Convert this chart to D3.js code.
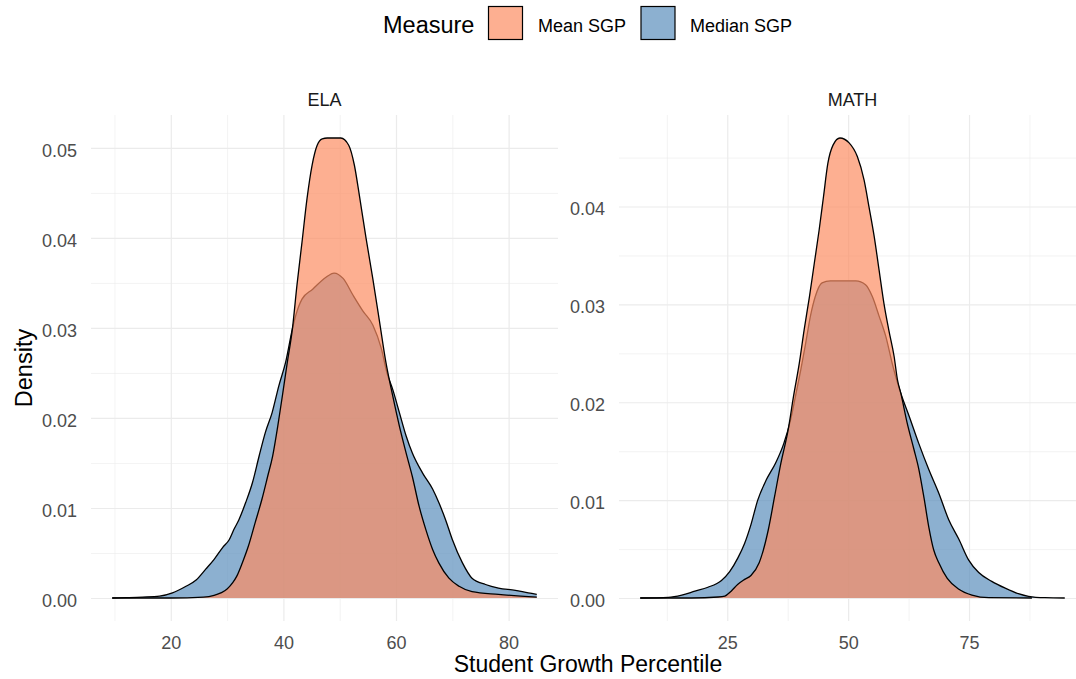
<!DOCTYPE html>
<html>
<head>
<meta charset="utf-8">
<script src="https://cdn.jsdelivr.net/npm/d3@7"></script>
<style>
  body { margin: 0; background: #fff; }
  svg { display: block; font-family: "Liberation Sans", Arial, sans-serif; }
</style>
</head>
<body>
<div id="plot"></div>
<script>
// density curves: [percentile, density]
const elaMedian = [
  [9.6, 0], [12, 0.00004], [15, 0.0001], [18, 0.0002], [20.3, 0.00056], [22.7, 0.0013],
  [24.5, 0.002], [26.2, 0.0032], [27.7, 0.0043], [29.2, 0.0056], [30.4, 0.0065], [31.2, 0.0076],
  [32.1, 0.0087], [33.3, 0.0106], [34.5, 0.0128], [35.7, 0.0158], [36.8, 0.0184], [38, 0.0206],
  [39.2, 0.0236], [40.4, 0.0262], [41.6, 0.0299], [42.2, 0.0314], [43.3, 0.0332], [45.2, 0.0343],
  [47.5, 0.0356], [49, 0.0361], [50.6, 0.0355], [52.4, 0.0336], [54.1, 0.0319], [55.9, 0.0303],
  [57.4, 0.0277], [58.4, 0.025], [59.4, 0.0232], [60.6, 0.0206], [61.8, 0.018], [62.9, 0.0161],
  [64.7, 0.0139], [66.5, 0.0121], [67.6, 0.0106], [68.8, 0.0087], [70, 0.0065], [71.8, 0.0039],
  [73.5, 0.0022], [75.9, 0.0015], [78.2, 0.0011], [81.2, 0.00085], [83.5, 0.00056], [85, 0.0004]
];
const elaMean = [
  [9.6, 0], [20, 0], [25.8, 0.0001], [27.7, 0.0003], [29, 0.0006], [30, 0.001],
  [31, 0.0017], [31.7, 0.0024], [32.7, 0.0039], [33.8, 0.0058], [35, 0.0084], [36.2, 0.011],
  [37.2, 0.0135], [38.1, 0.0158], [39, 0.0191], [39.9, 0.0228], [40.7, 0.0262], [41.6, 0.0299],
  [42.4, 0.0347], [43.3, 0.0395], [44.2, 0.0444], [45.1, 0.0481], [46, 0.0503], [46.9, 0.051],
  [47.8, 0.0511], [50.2, 0.0511], [51.6, 0.0503], [52.6, 0.0481], [53.5, 0.0447], [54.7, 0.0399],
  [55.9, 0.0354], [57.1, 0.0306], [58.2, 0.0262], [59.4, 0.0225], [60.6, 0.0191], [61.8, 0.0161],
  [62.9, 0.0135], [64.1, 0.0102], [65.3, 0.0076], [66.5, 0.0054], [67.6, 0.0039], [69.4, 0.0022],
  [71.2, 0.0013], [73.5, 0.0007], [78.2, 0.0004], [85, 0.0001]
];
const mathMedian = [
  [7, 0], [12.8, 0.00007], [15.6, 0.0003], [18.3, 0.0007], [21, 0.0011], [23.8, 0.0018],
  [25.5, 0.0027], [27.2, 0.0041], [28.6, 0.0056], [29.9, 0.0075], [31.3, 0.01], [33.1, 0.0121],
  [35, 0.0138], [36.7, 0.0158], [38.1, 0.0182], [39.1, 0.0206], [40.2, 0.0233], [41.2, 0.026],
  [42.2, 0.0288], [43.2, 0.0308], [44.6, 0.0322], [46.3, 0.0324], [48.4, 0.0324], [50.1, 0.0324],
  [51.6, 0.0324], [53.6, 0.032], [55, 0.0308], [56.4, 0.0288], [57.8, 0.0267], [59.1, 0.024],
  [60.2, 0.022], [60.9, 0.0209], [62.6, 0.0186], [64.6, 0.0158], [66.7, 0.0131], [68.75, 0.0107],
  [70.8, 0.008], [72.9, 0.006], [74.9, 0.0039], [77, 0.0026], [79.7, 0.0017], [82.5, 0.001],
  [85.2, 0.00044], [87.3, 0.00017], [90.7, 0.00003], [94.8, 0]
];
const mathMean = [
  [7, 0], [17.6, 0], [23.1, 0.0001], [24.5, 0.0002], [25.8, 0.0007], [27.2, 0.0014],
  [28.6, 0.0019], [29.9, 0.0023], [31.6, 0.0036], [33.5, 0.007], [34.8, 0.0104], [36.1, 0.0138],
  [37.6, 0.0172], [38.7, 0.0206], [39.9, 0.024], [40.9, 0.0274], [42, 0.0308], [43, 0.0342],
  [44, 0.0376], [44.9, 0.041], [45.8, 0.0444], [46.9, 0.0463], [48.3, 0.047], [50.2, 0.0465],
  [51.9, 0.0451], [53.3, 0.0427], [54.3, 0.04], [55.4, 0.0369], [56.4, 0.0335], [57.4, 0.0301],
  [58.4, 0.0274], [59.5, 0.0247], [60.2, 0.0223], [60.9, 0.0209], [62.2, 0.0179], [63.6, 0.0152],
  [64.6, 0.0132], [65.7, 0.0102], [66.7, 0.0072], [67.7, 0.0049], [68.75, 0.0036], [70.5, 0.002],
  [72.9, 0.0009], [75.6, 0.0003], [79.1, 0.00003], [88, 0]
];

const measures = ['Mean SGP', 'Median SGP'];
const measureColors = ['#FC8D62', '#5B8EBC'];
const subjects = ['ELA', 'MATH'];

const elaXTicks = [20, 40, 60, 80];
const elaXMinor = [10, 30, 50, 70];
const mathXTicks = [25, 50, 75];
const mathXMinor = [12.5, 37.5, 62.5, 87.5];
const elaYTicks = [0, 0.01, 0.02, 0.03, 0.04, 0.05];
const mathYTicks = [0, 0.01, 0.02, 0.03, 0.04];
const yMinor = [0.005, 0.015, 0.025, 0.035, 0.045];

const W = 1076, H = 679;
const panelTop = 115, panelBottom = 621;
const fillOpacity = 0.7;

const svg = d3.select('#plot').append('svg').attr('width', W).attr('height', H);

const panels = [
  { name: subjects[0], left: 91, right: 558, mean: elaMean, median: elaMedian,
    xTicks: elaXTicks, xMinor: elaXMinor, yTicks: elaYTicks },
  { name: subjects[1], left: 619, right: 1086, mean: mathMean, median: mathMedian,
    xTicks: mathXTicks, xMinor: mathXMinor, yTicks: mathYTicks }
];

// ggplot style 5% expansion
const expand = (ext) => {
  const pad = (ext[1] - ext[0]) * 0.05;
  return [ext[0] - pad, ext[1] + pad];
};

panels.forEach((p) => {
  const all = p.mean.concat(p.median);
  const x = d3.scaleLinear().domain(expand(d3.extent(all, (d) => d[0]))).range([p.left, p.right]);
  const y = d3.scaleLinear().domain(expand([0, d3.max(all, (d) => d[1])])).range([panelBottom, panelTop]);
  const g = svg.append('g');
  const ph = panelBottom - panelTop;
  const pw = p.right - p.left;

  // grid: minor then major
  const grid = (axis, tx, ty, sw) => {
    const a = g.append('g').attr('transform', `translate(${tx},${ty})`).call(axis);
    a.select('.domain').remove();
    a.selectAll('line').attr('stroke', '#EBEBEB').attr('stroke-width', sw);
    a.selectAll('text').remove();
  };
  grid(d3.axisBottom(x).tickValues(p.xMinor).tickSize(-ph).tickFormat(''), 0, panelBottom, 0.6);
  grid(d3.axisLeft(y).tickValues(yMinor.filter((v) => v < y.domain()[1])).tickSize(-pw).tickFormat(''), p.left, 0, 0.6);
  grid(d3.axisBottom(x).tickValues(p.xTicks).tickSize(-ph).tickFormat(''), 0, panelBottom, 1.2);
  grid(d3.axisLeft(y).tickValues(p.yTicks).tickSize(-pw).tickFormat(''), p.left, 0, 1.2);

  // tick labels
  const xl = g.append('g').attr('transform', `translate(0,${panelBottom})`)
    .call(d3.axisBottom(x).tickValues(p.xTicks).tickSize(0).tickPadding(15).tickFormat(d3.format('d')));
  xl.select('.domain').remove();
  xl.selectAll('text').attr('font-size', 18).attr('font-family', null).attr('fill', '#4D4D4D');

  const yl = g.append('g').attr('transform', `translate(${p.left},0)`)
    .call(d3.axisLeft(y).tickValues(p.yTicks).tickSize(0).tickPadding(14).tickFormat(d3.format('.2f')));
  yl.select('.domain').remove();
  yl.selectAll('text').attr('font-size', 18).attr('font-family', null).attr('fill', '#4D4D4D').attr('dy', '0.45em');

  // strip label
  g.append('text')
    .attr('x', (p.left + p.right) / 2)
    .attr('y', 106)
    .attr('text-anchor', 'middle')
    .attr('font-size', 18)
    .attr('fill', '#1A1A1A')
    .text(p.name);

  const area = d3.area().x((d) => x(d[0])).y0(y(0)).y1((d) => y(d[1])).curve(d3.curveMonotoneX);
  const line = d3.line().x((d) => x(d[0])).y((d) => y(d[1])).curve(d3.curveMonotoneX);

  // median drawn first, mean on top
  [[p.median, measureColors[1]], [p.mean, measureColors[0]]].forEach(([data, col]) => {
    g.append('path').datum(data).attr('d', area).attr('fill', col).attr('fill-opacity', fillOpacity);
    g.append('path').datum(data).attr('d', line).attr('fill', 'none')
      .attr('stroke', '#000').attr('stroke-width', 1.3).attr('stroke-linejoin', 'round');
  });
});

// legend
svg.append('text').attr('x', 383).attr('y', 33).attr('font-size', 23.5).attr('fill', '#000').text('Measure');
const keyX = [488.5, 641];
const labX = [538, 690];
measures.forEach((m, i) => {
  svg.append('rect')
    .attr('x', keyX[i]).attr('y', 6.5).attr('width', 34).attr('height', 33)
    .attr('fill', measureColors[i]).attr('fill-opacity', fillOpacity)
    .attr('stroke', '#000').attr('stroke-width', 1.2);
  svg.append('text').attr('x', labX[i]).attr('y', 32).attr('font-size', 18).attr('fill', '#000').text(m);
});

// axis titles
svg.append('text')
  .attr('x', 588).attr('y', 672)
  .attr('text-anchor', 'middle')
  .attr('font-size', 23)
  .attr('fill', '#000')
  .text('Student Growth Percentile');

svg.append('text')
  .attr('transform', `translate(32,${(panelTop + panelBottom) / 2}) rotate(-90)`)
  .attr('text-anchor', 'middle')
  .attr('font-size', 23.5)
  .attr('fill', '#000')
  .text('Density');
</script>
</body>
</html>
